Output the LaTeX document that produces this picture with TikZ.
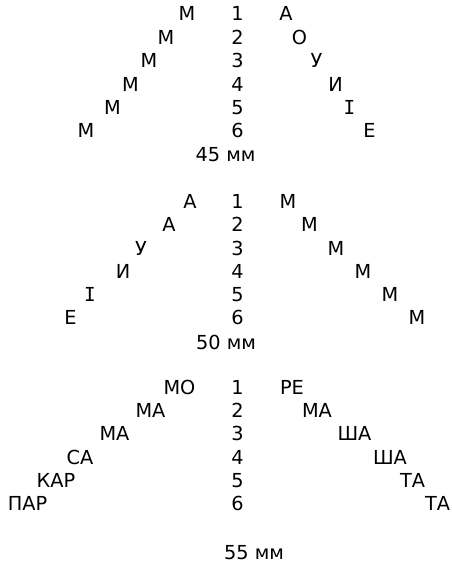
\documentclass[tikz,border=0pt]{standalone}
\usepackage{fontspec}
\setmainfont{DejaVu Sans}
\newfontfamily\serifI{DejaVu Sans Mono}
\begin{document}
\begin{tikzpicture}[x=1pt,y=-1pt,
  lbl/.style={inner sep=0pt,anchor=base,font=\fontsize{19.3}{23}\selectfont}]
\useasboundingbox (0,0) rectangle (451,563);
\def\bo{6.9}
% section 1
\foreach \n/\y/\l/\lt/\r/\rt in {1/14/187/М/286/А,2/37.3/166/М/299.5/О,3/61/149/М/316.5/У,4/84.3/130.5/М/335.5/И,5/107.3/112.5/М/349.5/{\serifI I},6/131/86/М/369.5/Е}{
  \node[lbl] (a-l\n) at (\l,\y+\bo) {\lt};
  \node[lbl] (a-n\n) at (237.5,\y+\bo) {\n};
  \node[lbl] (a-r\n) at (\r,\y+\bo) {\rt};
}
\node[lbl] (a-mm) at (225.5,154.3+\bo) {45 мм};
% section 2
\foreach \n/\y/\l/\lt/\r/\rt in {1/201.7/190/А/288/М,2/225/169/А/309.5/М,3/248.3/141/У/336/М,4/271.7/123/И/363/М,5/295/90/{\serifI I}/390/М,6/317.7/70.5/Е/417/М}{
  \node[lbl] (b-l\n) at (\l,\y+\bo) {\lt};
  \node[lbl] (b-n\n) at (237.5,\y+\bo) {\n};
  \node[lbl] (b-r\n) at (\r,\y+\bo) {\rt};
}
\node[lbl] (b-mm) at (226,342.7+\bo) {50 мм};
% section 3
\foreach \n/\y/\l/\lt/\r/\rt in {1/387.3/179.5/МО/292/РЕ,2/410.7/150.5/МА/317/МА,3/434/114.5/МА/354.5/ША,4/457.3/80/СА/390/ША,5/480.7/56/КАР/412.5/ТА,6/504/27.5/ПАР/437.5/ТА}{
  \node[lbl] (c-l\n) at (\l,\y+\bo) {\lt};
  \node[lbl] (c-n\n) at (237.5,\y+\bo) {\n};
  \node[lbl] (c-r\n) at (\r,\y+\bo) {\rt};
}
\node[lbl] (c-mm) at (254,552.7+\bo) {55 мм};
\end{tikzpicture}
\end{document}
